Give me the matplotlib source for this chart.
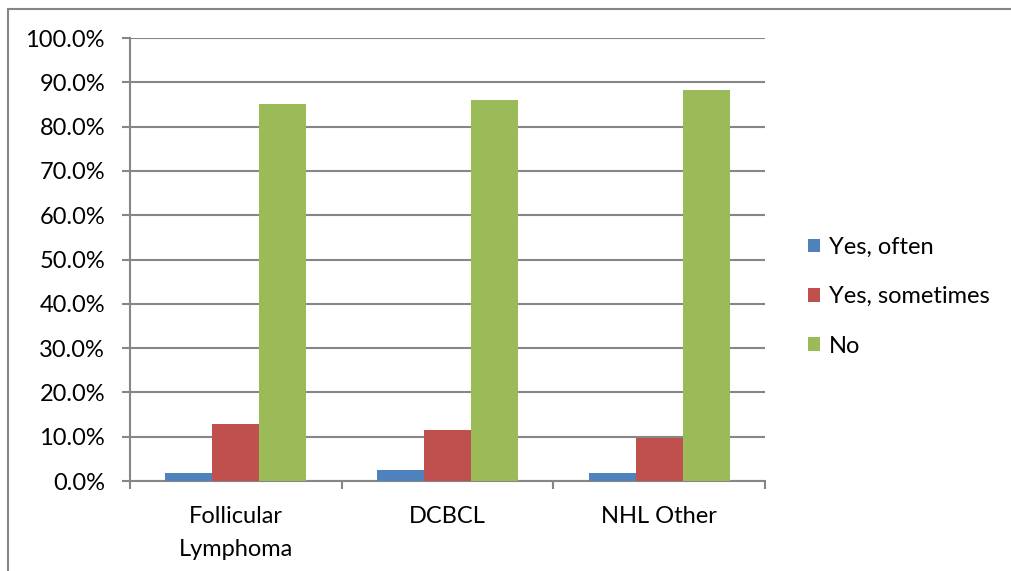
import numpy as np
import matplotlib.pyplot as plt
from matplotlib.lines import Line2D
from matplotlib.ticker import FixedLocator, PercentFormatter

plt.rcParams['font.family'] = ['Lato', 'DejaVu Sans']

categories = ["Follicular\nLymphoma", "DCBCL", "NHL Other"]
series_names = ["Yes, often", "Yes, sometimes", "No"]
yes_often = [1.9, 2.5, 1.7]
yes_sometimes = [12.8, 11.5, 9.8]
no = [85.1, 85.9, 88.3]
colors = ["#4f81bd", "#c0504d", "#9bbb59"]

grid_color = "#868686"
fs = 17

fig = plt.figure(figsize=(10.11, 5.71), dpi=100)
ax = fig.add_axes([0.1286, 0.1576, 0.628, 0.7758])

x = np.arange(len(categories))
width = 0.222
for i, (vals, name, col) in enumerate(zip([yes_often, yes_sometimes, no], series_names, colors)):
    ax.bar(x + (i - 1) * width, vals, width, color=col, label=name, zorder=3)

ax.set_xlim(-0.5, len(categories) - 0.5)
ax.set_ylim(0, 100)
ax.set_yticks(np.arange(0, 101, 10))
ax.yaxis.set_major_formatter(PercentFormatter(decimals=1))
ax.yaxis.grid(True, color=grid_color, linewidth=1.5, zorder=0)

# category labels in the middle, tick marks between categories
ax.set_xticks(x)
ax.set_xticklabels(categories, fontsize=fs, linespacing=1.7)
ax.tick_params(axis='x', length=0, pad=18)
ax.xaxis.set_minor_locator(FixedLocator(np.arange(-0.5, len(categories), 1)))
ax.tick_params(axis='x', which='minor', length=6, width=1.5, color=grid_color)
ax.tick_params(axis='y', length=6, width=1.5, color=grid_color, labelsize=fs, pad=12)

for side in ['top', 'right']:
    ax.spines[side].set_visible(False)
for side in ['left', 'bottom']:
    ax.spines[side].set_color(grid_color)
    ax.spines[side].set_linewidth(1.5)

ax.legend(loc='center left', bbox_to_anchor=(1.068, 0.416), frameon=False,
          fontsize=fs, handlelength=0.5, handleheight=0.5, handletextpad=0.4,
          labelspacing=1.2, borderpad=0, borderaxespad=0)

# outer chart frame
fig.add_artist(Line2D([0.0075, 1.0], [0.9847, 0.9847], color=grid_color, linewidth=1.5))
fig.add_artist(Line2D([0.0075, 0.0075], [0.0, 0.9847], color=grid_color, linewidth=1.5))

fig.savefig("out.png", dpi=100)
